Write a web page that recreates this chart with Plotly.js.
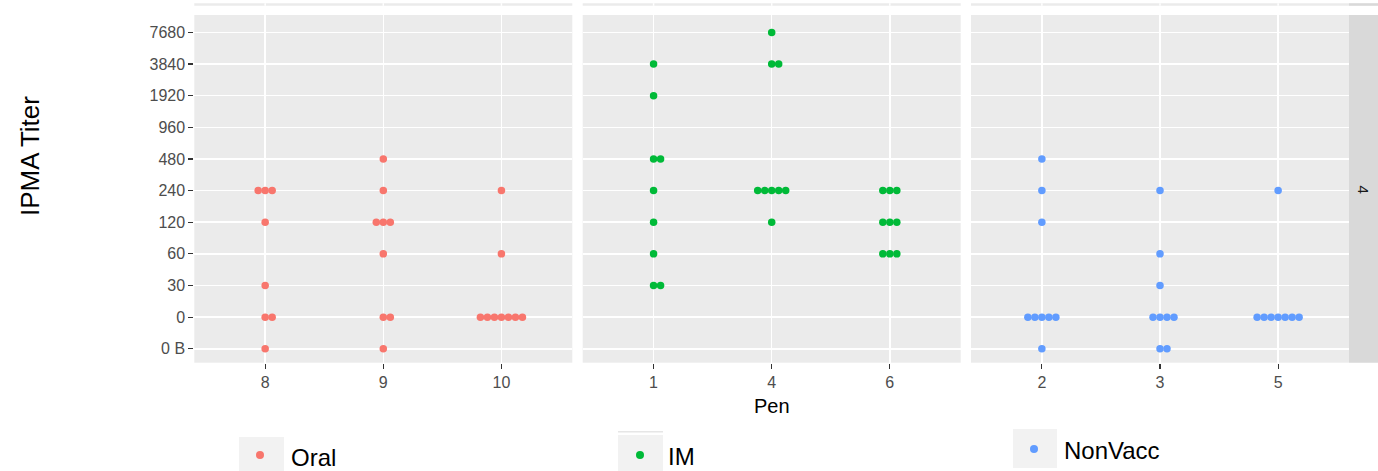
<!DOCTYPE html>
<html>
<head>
<meta charset="utf-8">
<script src="https://cdn.plot.ly/plotly-3.0.1.min.js"></script>
<style>html,body{margin:0;padding:0;background:#fff;}#chart{width:1378px;height:471px;}</style>
</head>
<body>
<div id="chart"></div>
<script>
// ---------------- DATA ----------------
const titerLevels = ["0 B","0","30","60","120","240","480","960","1920","3840","7680"];
const groupNames = ["Oral","IM","NonVacc"];
const groupColors = ["#F8766D","#00BA38","#619CFF"];

const oralPens = ["8","9","10"];
const oralPen   = ["8","8","8","8","8","8","8","8",
                   "9","9","9","9","9","9","9","9","9",
                   "10","10","10","10","10","10","10","10","10"];
const oralTiter = ["240","240","240","120","30","0","0","0 B",
                   "480","240","120","120","120","60","0","0","0 B",
                   "240","60","0","0","0","0","0","0","0"];

const imPens = ["1","4","6"];
const imPen   = ["1","1","1","1","1","1","1","1","1",
                 "4","4","4","4","4","4","4","4","4",
                 "6","6","6","6","6","6","6","6","6"];
const imTiter = ["3840","1920","480","480","240","120","60","30","30",
                 "7680","3840","3840","240","240","240","240","240","120",
                 "240","240","240","120","120","120","60","60","60"];

const nvPens = ["2","3","5"];
const nvPen   = ["2","2","2","2","2","2","2","2","2",
                 "3","3","3","3","3","3","3","3","3",
                 "5","5","5","5","5","5","5","5"];
const nvTiter = ["480","240","120","0","0","0","0","0","0 B",
                 "240","60","30","0","0","0","0","0 B","0 B",
                 "240","0","0","0","0","0","0","0"];

const stripLabel = "4";
const xTitle = "Pen";
const yTitle = "IPMA Titer";

// ---------------- LAYOUT HELPERS ----------------
const W = 1378, H = 471;
const px = v => v / W;
const py = v => 1 - v / H;
const panelL = [194.3, 582.7, 971];
const panelW = 378;
const panelTop = 15, panelBot = 362.7;
const xRange = [-0.6, 2.6];
const pxPerUnit = panelW / (xRange[1] - xRange[0]);
const dotStep = 7 / pxPerUnit;

// dodge points sharing a pen/titer (like a centred dot stack)
function dodge(pens, penVals, titers) {
  const counts = {}, seen = {};
  penVals.forEach((p, i) => { const k = p + "|" + titers[i]; counts[k] = (counts[k] || 0) + 1; });
  return penVals.map((p, i) => {
    const k = p + "|" + titers[i];
    const idx = seen[k] || 0; seen[k] = idx + 1;
    const n = counts[k];
    return pens.indexOf(p) + (idx - Math.floor((n - 1) / 2)) * dotStep;
  });
}

const sets = [
  {pens: oralPens, pen: oralPen, titer: oralTiter, xa: "x"},
  {pens: imPens, pen: imPen, titer: imTiter, xa: "x2"},
  {pens: nvPens, pen: nvPen, titer: nvTiter, xa: "x3"}
];

const traces = sets.map((s, g) => ({
  type: "scatter", mode: "markers",
  name: groupNames[g],
  x: dodge(s.pens, s.pen, s.titer),
  y: s.titer,
  xaxis: s.xa, yaxis: "y",
  marker: {color: groupColors[g], size: 7.5, line: {width: 0}},
  showlegend: false,
  hoverinfo: "skip"
}));

const font = "Liberation Sans, Arial, sans-serif";
const tickFont = {family: font, size: 16, color: "#4D4D4D"};

function xAxis(i, pens) {
  return {
    domain: [px(panelL[i]), px(panelL[i] + panelW)],
    anchor: "y",
    range: xRange,
    tickmode: "array", tickvals: pens.map((_, k) => k), ticktext: pens,
    showgrid: true, gridcolor: "#FFFFFF", gridwidth: 1.5,
    zeroline: false, showline: false,
    ticks: "outside", ticklen: 5, tickwidth: 1.2, tickcolor: "#333333",
    tickfont: tickFont, fixedrange: true
  };
}

const shapes = [];
const annotations = [];

// thin strip at top (remnant of panels above) with gridline breaks
panelL.forEach((l, i) => {
  shapes.push({type: "rect", xref: "paper", yref: "paper", x0: px(l), x1: px(l + panelW),
    y0: py(5.8), y1: py(3.2), fillcolor: "#EBEBEB", line: {width: 0}, layer: "below"});
  [0, 1, 2].forEach(k => {
    const xx = l + (k - xRange[0]) * pxPerUnit;
    shapes.push({type: "line", xref: "paper", yref: "paper", x0: px(xx), x1: px(xx),
      y0: py(5.8), y1: py(3.2), line: {color: "#FFFFFF", width: 1.5}, layer: "below"});
  });
});
shapes.push({type: "rect", xref: "paper", yref: "paper", x0: px(1349), x1: px(1378),
  y0: py(5.8), y1: py(3.2), fillcolor: "#D9D9D9", line: {width: 0}, layer: "below"});

// right facet strip
shapes.push({type: "rect", xref: "paper", yref: "paper", x0: px(1349), x1: px(1378),
  y0: py(panelBot), y1: py(panelTop), fillcolor: "#D9D9D9", line: {width: 0}, layer: "below"});
annotations.push({xref: "paper", yref: "paper", x: px(1363.5), y: py(189), text: stripLabel,
  showarrow: false, textangle: 90, font: {family: font, size: 15, color: "#1A1A1A"},
  xanchor: "center", yanchor: "middle"});

// axis titles
annotations.push({xref: "paper", yref: "paper", x: px(30), y: py(156), text: yTitle,
  showarrow: false, textangle: -90, font: {family: font, size: 26, color: "#000000"},
  xanchor: "center", yanchor: "middle"});
annotations.push({xref: "paper", yref: "paper", x: px(771.7), y: py(406), text: xTitle,
  showarrow: false, font: {family: font, size: 20, color: "#000000"},
  xanchor: "center", yanchor: "middle"});

// separate legend keys
const legendKeys = [
  {box: [239, 284, 437, 471], dot: [260, 455], text: [289, 457]},
  {box: [618, 663, 435, 471], dot: [640, 455], text: [666, 456]},
  {box: [1013, 1057, 429, 468], dot: [1034, 449], text: [1062, 450]}
];
legendKeys.forEach((k, g) => {
  shapes.push({type: "rect", xref: "paper", yref: "paper", x0: px(k.box[0]), x1: px(k.box[1]),
    y0: py(k.box[3]), y1: py(k.box[2]), fillcolor: "#F2F2F2", line: {width: 0}});
  const r = 4;
  shapes.push({type: "circle", xref: "paper", yref: "paper", x0: px(k.dot[0] - r), x1: px(k.dot[0] + r),
    y0: py(k.dot[1] + r), y1: py(k.dot[1] - r), fillcolor: groupColors[g], line: {width: 0}});
  annotations.push({xref: "paper", yref: "paper", x: px(k.text[0]), y: py(k.text[1]), text: groupNames[g],
    showarrow: false, font: {family: font, size: 24, color: "#000000"}, xanchor: "left", yanchor: "middle"});
});
shapes.push({type: "rect", xref: "paper", yref: "paper", x0: px(618), x1: px(663),
  y0: py(432.5), y1: py(431), fillcolor: "#E6E6E6", line: {width: 0}});

const layout = {
  width: W, height: H,
  margin: {l: 0, r: 0, t: 0, b: 0, pad: 0},
  paper_bgcolor: "#FFFFFF", plot_bgcolor: "#EBEBEB",
  showlegend: false,
  xaxis: xAxis(0, oralPens),
  xaxis2: xAxis(1, imPens),
  xaxis3: xAxis(2, nvPens),
  yaxis: {
    domain: [py(panelBot), py(panelTop)],
    anchor: "x",
    type: "category", categoryorder: "array", categoryarray: titerLevels,
    tickmode: "array", tickvals: titerLevels, ticktext: titerLevels,
    range: [-0.44, 10.55],
    showgrid: true, gridcolor: "#FFFFFF", gridwidth: 1.5,
    zeroline: false, showline: false,
    ticks: "outside", ticklen: 5, tickwidth: 1.2, tickcolor: "#333333",
    tickfont: tickFont, fixedrange: true
  },
  shapes: shapes,
  annotations: annotations
};

Plotly.newPlot("chart", traces, layout, {staticPlot: true, displayModeBar: false});
</script>
</body>
</html>
